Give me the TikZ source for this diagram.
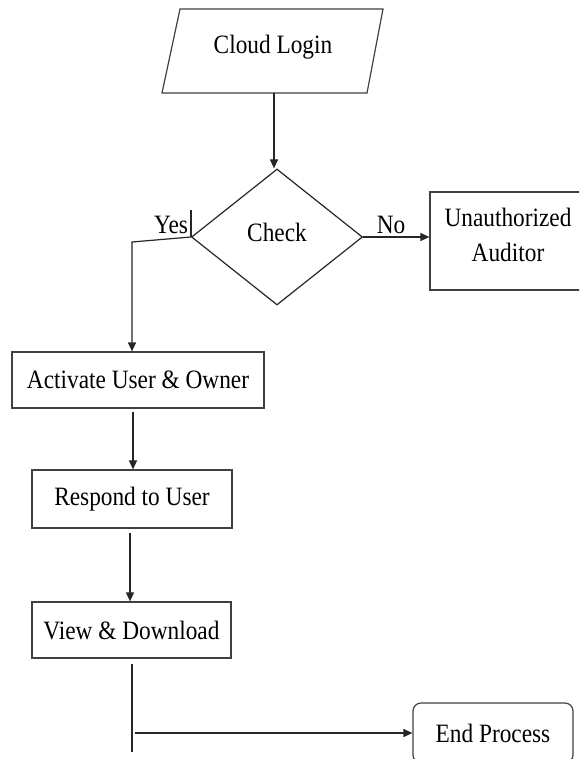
\documentclass[tikz,border=0pt]{standalone}
\usepackage{fontspec}
\setmainfont{Liberation Serif}[FakeStretch=0.88]
\usetikzlibrary{shapes.geometric,arrows.meta}

\tikzset{
  flowline/.style={draw=black!85, line width=1.2pt},
  flowarrow/.style={flowline, -{Triangle[length=9pt,width=8pt]}},
  stepbox/.style={draw=black!75, line width=1.2pt, rectangle, inner sep=0pt},
  endbox/.style={stepbox, rounded corners=8pt},
  decision/.style={draw=black!85, line width=1.2pt, diamond, inner sep=0pt},
  caption/.style={inner sep=0pt, align=center},
}

\begin{document}
\begin{tikzpicture}[x=1pt, y=-1pt,
  every node/.append style={font=\fontsize{26.5}{35}\selectfont}]
\clip (0,0) rectangle (579,759);
\fill[white] (0,0) rectangle (579,759);

% input step: parallelogram
\draw[flowline, draw=black!75] (180,9) -- (383,9) -- (367,93) -- (162,93) -- cycle;
\node[caption] (login) at (273,47) {Cloud Login};
\coordinate (loginb) at (274,93);

% decision
\node[decision, minimum width=171pt, minimum height=136pt] (check) at (277,237) {};
\node[caption] (checktxt) at (277,232) {Check};

% rejected branch
\node[stepbox, minimum width=156pt, minimum height=98pt] (unauth) at (508,241) {};
\node[caption] (unauthtxt) at (508,235) {Unauthorized\\Auditor};

% main sequence
\node[stepbox, minimum width=252pt, minimum height=56pt] (act) at (138,380) {Activate User \& Owner};
\node[stepbox, minimum width=200pt, minimum height=58pt] (resp) at (132,499) {Respond to User};
\node[stepbox, minimum width=199pt, minimum height=56pt] (view) at (131.5,630) {View \& Download};
\node[endbox, minimum width=160pt, minimum height=60pt] (endp) at (493,733) {End Process};

% labels
\node[caption] (yes) at (171,225) {Yes};
\node[caption] (no) at (391,225) {No};

% connectors
\draw[flowarrow] (loginb) -- (loginb |- check.north);
\draw[flowarrow] (check.east) -- (check.east -| unauth.west);

\coordinate (yestick) at (190,210);
\coordinate (ybend) at (132,242);
\draw[flowline] (check.west) -- (check.west |- yestick);
\draw[flowarrow] (check.west) -- (ybend) -- (ybend |- act.north);

\coordinate (a1) at (133,412);
\draw[flowarrow] (a1) -- (a1 |- resp.north);

\coordinate (a2) at (130,533);
\draw[flowarrow] (a2) -- (a2 |- view.north);

\coordinate (a3) at (132,664);
\coordinate (a3end) at (132,752);
\draw[flowline] (a3) -- (a3end);
\coordinate (a4) at (135,733);
\draw[flowarrow] (a4) -- (a4 -| endp.west);
\end{tikzpicture}
\end{document}
